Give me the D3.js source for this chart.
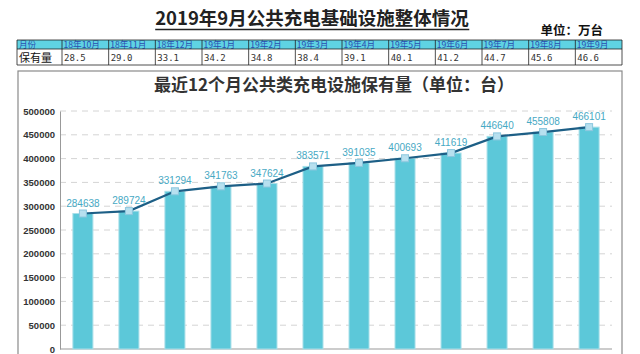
<!DOCTYPE html>
<html>
<head>
<meta charset="utf-8">
<script src="https://cdn.jsdelivr.net/npm/d3@7"></script>
<style>
body { margin: 0; background: #fff; }
svg { display: block; }
</style>
</head>
<body>
<script>
//chart data
var months = ["18年10月", "18年11月", "18年12月", "19年1月", "19年2月", "19年3月",
              "19年4月", "19年5月", "19年6月", "19年7月", "19年8月", "19年9月"];
var stockWan = ["28.5", "29.0", "33.1", "34.2", "34.8", "38.4",
                "39.1", "40.1", "41.2", "44.7", "45.6", "46.6"];
var stockUnits = [284638, 289724, 331294, 341763, 347624, 383571,
                  391035, 400693, 411619, 446640, 455808, 466101];
var yTicks = [0, 50000, 100000, 150000, 200000, 250000, 300000, 350000, 400000, 450000, 500000];

var width = 640, height = 354;
var cjk = "'Noto Sans CJK SC', 'Noto Sans', sans-serif";

var svg = d3.select("body").append("svg")
    .attr("width", width)
    .attr("height", height);

//main title
var title = svg.append("text")
    .attr("x", 312)
    .attr("y", 25)
    .attr("text-anchor", "middle")
    .style("font-family", cjk)
    .style("font-weight", "bold")
    .style("font-size", "18.5px")
    .attr("fill", "#222")
    .text("2019年9月公共充电基础设施整体情况");
var tb = title.node().getBBox();
svg.append("line")
    .attr("x1", tb.x).attr("x2", tb.x + tb.width)
    .attr("y1", 29.5).attr("y2", 29.5)
    .attr("stroke", "#222").attr("stroke-width", 1.3);

svg.append("text")
    .attr("x", 603)
    .attr("y", 34.5)
    .attr("text-anchor", "end")
    .style("font-family", cjk)
    .style("font-weight", "bold")
    .style("font-size", "12.5px")
    .attr("fill", "#111")
    .text("单位：万台");

//summary table
var cellX = d3.scaleBand()
    .domain(d3.range(months.length))
    .range([62, 622]);
var tableTop = 40, row1 = 9, row2 = 16;

svg.append("rect")
    .attr("x", 17).attr("y", tableTop)
    .attr("width", 605).attr("height", row1)
    .attr("fill", "#5fd3e3");

var tbl = svg.append("g");
tbl.append("text")
    .attr("x", 19).attr("y", tableTop + 7.8)
    .style("font-family", cjk).style("font-size", "8.6px")
    .attr("fill", "#2b4db0").text("月份");
tbl.append("text")
    .attr("x", 19).attr("y", tableTop + row1 + 13)
    .style("font-family", cjk).style("font-size", "11px")
    .attr("fill", "#111").text("保有量");

tbl.selectAll(".hdr")
    .data(months)
    .enter().append("text")
    .attr("class", "hdr")
    .attr("x", function(d, i){ return cellX(i) + 1.5; })
    .attr("y", tableTop + 7.8)
    .style("font-family", cjk).style("font-size", "8.6px")
    .attr("fill", "#2b4db0")
    .text(function(d){ return d; });

tbl.selectAll(".val")
    .data(stockWan)
    .enter().append("text")
    .attr("class", "val")
    .attr("x", function(d, i){ return cellX(i) + 2; })
    .attr("y", tableTop + row1 + 11.5)
    .style("font-family", "'DejaVu Sans Mono', monospace").style("font-size", "9px")
    .attr("fill", "#333")
    .text(function(d){ return d; });

//table grid lines
var colEdges = [17].concat(months.map(function(d, i){ return cellX(i); }), [622]);
tbl.selectAll(".vl")
    .data(colEdges)
    .enter().append("line")
    .attr("x1", function(d){ return d; }).attr("x2", function(d){ return d; })
    .attr("y1", tableTop).attr("y2", tableTop + row1 + row2)
    .attr("stroke", "#222").attr("stroke-width", 0.8);
[tableTop, tableTop + row1, tableTop + row1 + row2].forEach(function(y){
    tbl.append("line")
        .attr("x1", 17).attr("x2", 622)
        .attr("y1", y).attr("y2", y)
        .attr("stroke", "#222").attr("stroke-width", 0.8);
});

//chart frame
svg.append("rect")
    .attr("x", 18).attr("y", 71)
    .attr("width", 604).attr("height", 300)
    .attr("fill", "#fff")
    .attr("stroke", "#8a8a8a").attr("stroke-width", 1.2);

svg.append("text")
    .attr("x", 334)
    .attr("y", 91)
    .attr("text-anchor", "middle")
    .style("font-family", cjk)
    .style("font-weight", "bold")
    .style("font-size", "17px")
    .attr("fill", "#333")
    .text("最近12个月公共类充电设施保有量（单位：台）");

//scales
var x = d3.scaleBand()
    .domain(months)
    .range([60, 612])
    .paddingInner(0.565)
    .paddingOuter(0.28);
var y = d3.scaleLinear()
    .domain([0, 500000])
    .range([349, 111]);

//gridlines
svg.append("g")
    .selectAll("line")
    .data(yTicks.slice(1))
    .enter().append("line")
    .attr("x1", 60).attr("x2", 612)
    .attr("y1", function(d){ return y(d); })
    .attr("y2", function(d){ return y(d); })
    .attr("stroke", "#d4d4d4")
    .attr("stroke-dasharray", "6,5");

//y axis
var yAxis = svg.append("g")
    .attr("transform", "translate(60,0)")
    .call(d3.axisLeft(y).tickValues(yTicks).tickFormat(d3.format("d")).tickSize(0).tickPadding(5));
yAxis.select(".domain").attr("stroke", "#999");
yAxis.selectAll("text")
    .style("font-family", "'Liberation Sans', Arial, sans-serif")
    .style("font-weight", "bold")
    .style("font-size", "9.5px")
    .attr("fill", "#333");

//x axis line
svg.append("line")
    .attr("x1", 60).attr("x2", 612)
    .attr("y1", 349).attr("y2", 349)
    .attr("stroke", "#999");

//bars
svg.selectAll(".bar")
    .data(stockUnits)
    .enter().append("rect")
    .attr("class", "bar")
    .attr("x", function(d, i){ return x(months[i]); })
    .attr("y", function(d){ return y(d); })
    .attr("width", x.bandwidth())
    .attr("height", function(d){ return 349 - y(d); })
    .attr("fill", "#5cc8d9")
    .attr("stroke", "#a9dfe9")
    .attr("stroke-width", 1);

//line with markers
var line = d3.line()
    .x(function(d, i){ return x(months[i]) + x.bandwidth() / 2; })
    .y(function(d){ return y(d); });
svg.append("path")
    .datum(stockUnits)
    .attr("d", line)
    .attr("fill", "none")
    .attr("stroke", "#1d5f86")
    .attr("stroke-width", 2.2);

svg.selectAll(".mark")
    .data(stockUnits)
    .enter().append("rect")
    .attr("class", "mark")
    .attr("x", function(d, i){ return x(months[i]) + x.bandwidth() / 2 - 3.5; })
    .attr("y", function(d){ return y(d) - 3.5; })
    .attr("width", 7).attr("height", 7)
    .attr("fill", "#b7e0ef")
    .attr("stroke", "#8cc7de");

svg.selectAll(".lbl")
    .data(stockUnits)
    .enter().append("text")
    .attr("class", "lbl")
    .attr("x", function(d, i){ return x(months[i]) + x.bandwidth() / 2; })
    .attr("y", function(d){ return y(d) - 7; })
    .attr("text-anchor", "middle")
    .style("font-family", "'Liberation Sans', Arial, sans-serif")
    .style("font-size", "10px")
    .attr("fill", "#47a9c4")
    .text(function(d){ return d; });
</script>
</body>
</html>
